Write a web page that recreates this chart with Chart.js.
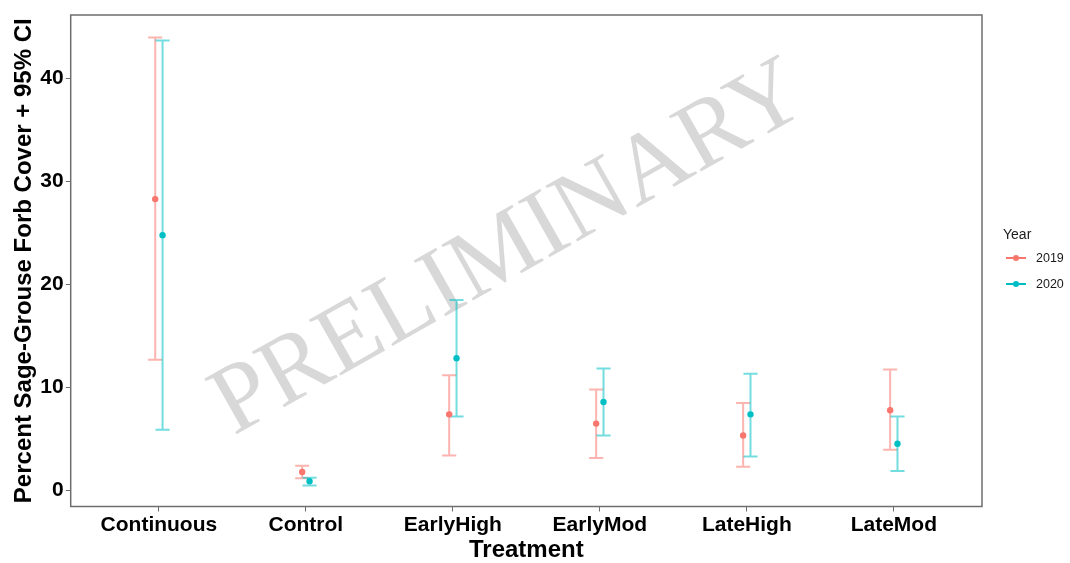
<!DOCTYPE html>
<html>
<head>
<meta charset="utf-8">
<script src="https://cdn.jsdelivr.net/npm/chart.js@4.4.1/dist/chart.umd.min.js"></script>
<style>
  body { margin: 0; background: #fff; }
  #wrap { position: relative; width: 1070px; height: 563px; }
  #legend { position: absolute; left: 1003px; top: 223px; font-family: "Liberation Sans", Arial, sans-serif; color: #1a1a1a; }
  #legend .title { font-size: 14px; height: 22px; line-height: 22px; }
  #legend .item { position: relative; height: 26px; line-height: 26px; font-size: 12.5px; padding-left: 33px; }
  #legend .key { position: absolute; left: 3px; top: 12px; width: 20px; height: 2px; }
  #legend .dot { position: absolute; left: 10px; top: 10px; width: 6px; height: 6px; border-radius: 50%; }
</style>
</head>
<body>
<div id="wrap">
  <canvas id="chart" width="1070" height="563"></canvas>
  <div id="legend"></div>
</div>
<script>
// Data
const treatments = ["Continuous", "Control", "EarlyHigh", "EarlyMod", "LateHigh", "LateMod"]
const years = ["2019", "2020"]
const mean2019 = [28.3, 1.8, 7.4, 6.5, 5.35, 7.8]
const low2019 = [12.7, 1.2, 3.4, 3.15, 2.3, 3.95]
const high2019 = [44.0, 2.4, 11.2, 9.8, 8.5, 11.75]
const mean2020 = [24.8, 0.9, 12.85, 8.6, 7.4, 4.55]
const low2020 = [5.9, 0.5, 7.2, 5.35, 3.3, 1.9]
const high2020 = [43.7, 1.25, 18.5, 11.85, 11.35, 7.2]
const yTicks = [0, 10, 20, 30, 40]

const colors = { "2019": "#F8766D", "2020": "#00BFC4" }
const barColors = { "2019": "rgba(248,118,109,0.55)", "2020": "rgba(0,191,196,0.55)" }
const dodge = 0.025
const capHalf = 0.048
const font = '"Liberation Sans", Arial, sans-serif'

function makeSet(year, means, lows, highs, offset) {
  return {
    label: year,
    data: means.map((m, i) => ({ x: i + 1 + offset, y: m })),
    lows: lows,
    highs: highs,
    barColor: barColors[year],
    backgroundColor: colors[year],
    borderColor: colors[year],
    pointRadius: 3.2,
    pointBorderWidth: 0,
    showLine: false,
  }
}

// watermark behind the data
const watermark = {
  id: "watermark",
  beforeDatasetsDraw(chart) {
    const ctx = chart.ctx
    ctx.save()
    ctx.translate(510, 250)
    ctx.rotate(-29.5 * Math.PI / 180)
    ctx.font = '98px "Liberation Serif", "Times New Roman", serif'
    ctx.fillStyle = "rgba(190,190,190,0.6)"
    ctx.textAlign = "center"
    ctx.textBaseline = "middle"
    ctx.fillText("PRELIMINARY", 0, 0)
    ctx.restore()
  },
}

// error bars from the dataset low/high arrays
const errorBars = {
  id: "errorBars",
  beforeDatasetsDraw(chart) {
    const ctx = chart.ctx
    const xs = chart.scales.x
    const ys = chart.scales.y
    const unit = xs.getPixelForValue(1) - xs.getPixelForValue(0)
    ctx.save()
    chart.data.datasets.forEach((ds) => {
      ctx.strokeStyle = ds.barColor
      ctx.lineWidth = 2
      ds.data.forEach((p, i) => {
        const x = xs.getPixelForValue(p.x)
        const yl = ys.getPixelForValue(ds.lows[i])
        const yh = ys.getPixelForValue(ds.highs[i])
        const w = capHalf * unit
        ctx.beginPath()
        ctx.moveTo(x, yl); ctx.lineTo(x, yh)
        ctx.moveTo(x - w, yl); ctx.lineTo(x + w, yl)
        ctx.moveTo(x - w, yh); ctx.lineTo(x + w, yh)
        ctx.stroke()
      })
    })
    ctx.restore()
  },
  afterDraw(chart) {
    const a = chart.chartArea
    const ctx = chart.ctx
    ctx.save()
    ctx.strokeStyle = "#6e6e6e"
    ctx.lineWidth = 1.5
    ctx.strokeRect(a.left, a.top, a.right - a.left, a.bottom - a.top)
    ctx.restore()
  },
}

new Chart(document.getElementById("chart"), {
  type: "scatter",
  data: {
    datasets: [
      makeSet(years[0], mean2019, low2019, high2019, -dodge),
      makeSet(years[1], mean2020, low2020, high2020, dodge),
    ],
  },
  options: {
    responsive: false,
    animation: false,
    devicePixelRatio: 1,
    layout: { padding: { left: 0, top: 15, right: 88, bottom: 0 } },
    plugins: { legend: { display: false }, tooltip: { enabled: false } },
    scales: {
      x: {
        type: "linear",
        min: 0.4,
        max: 6.6,
        afterBuildTicks: (s) => { s.ticks = treatments.map((t, i) => ({ value: i + 1 })) },
        afterFit: (s) => { s.height = 56.5 },
        ticks: {
          callback: (v) => treatments[v - 1],
          color: "#000",
          font: { family: font, size: 21, weight: "bold" },
          padding: 1,
          maxRotation: 0,
          autoSkip: false,
        },
        grid: { drawOnChartArea: false, tickLength: 5, color: "#6e6e6e" },
        border: { display: false },
        title: {
          display: true,
          text: "Treatment",
          color: "#000",
          font: { family: font, size: 24, weight: "bold", lineHeight: 1 },
          padding: { top: 0, bottom: 1 },
        },
      },
      y: {
        min: -1.55,
        max: 46.18,
        afterBuildTicks: (s) => { s.ticks = yTicks.map((v) => ({ value: v })) },
        afterFit: (s) => { s.width = 70.7 },
        ticks: {
          color: "#000",
          font: { family: font, size: 21, weight: "bold" },
          padding: 2,
        },
        grid: { drawOnChartArea: false, tickLength: 5, color: "#6e6e6e" },
        border: { display: false },
        title: {
          display: true,
          text: "Percent Sage-Grouse Forb Cover + 95% CI",
          color: "#000",
          font: { family: font, size: 24, weight: "bold", lineHeight: 1 },
          padding: { top: 12, bottom: 0 },
        },
      },
    },
  },
  plugins: [watermark, errorBars],
})

// Legend
const legend = document.getElementById("legend")
legend.innerHTML = '<div class="title">Year</div>' + years.map((y) => `
  <div class="item">
    <span class="key" style="background:${colors[y]}"></span>
    <span class="dot" style="background:${colors[y]}"></span>${y}
  </div>`).join("")
</script>
</body>
</html>
